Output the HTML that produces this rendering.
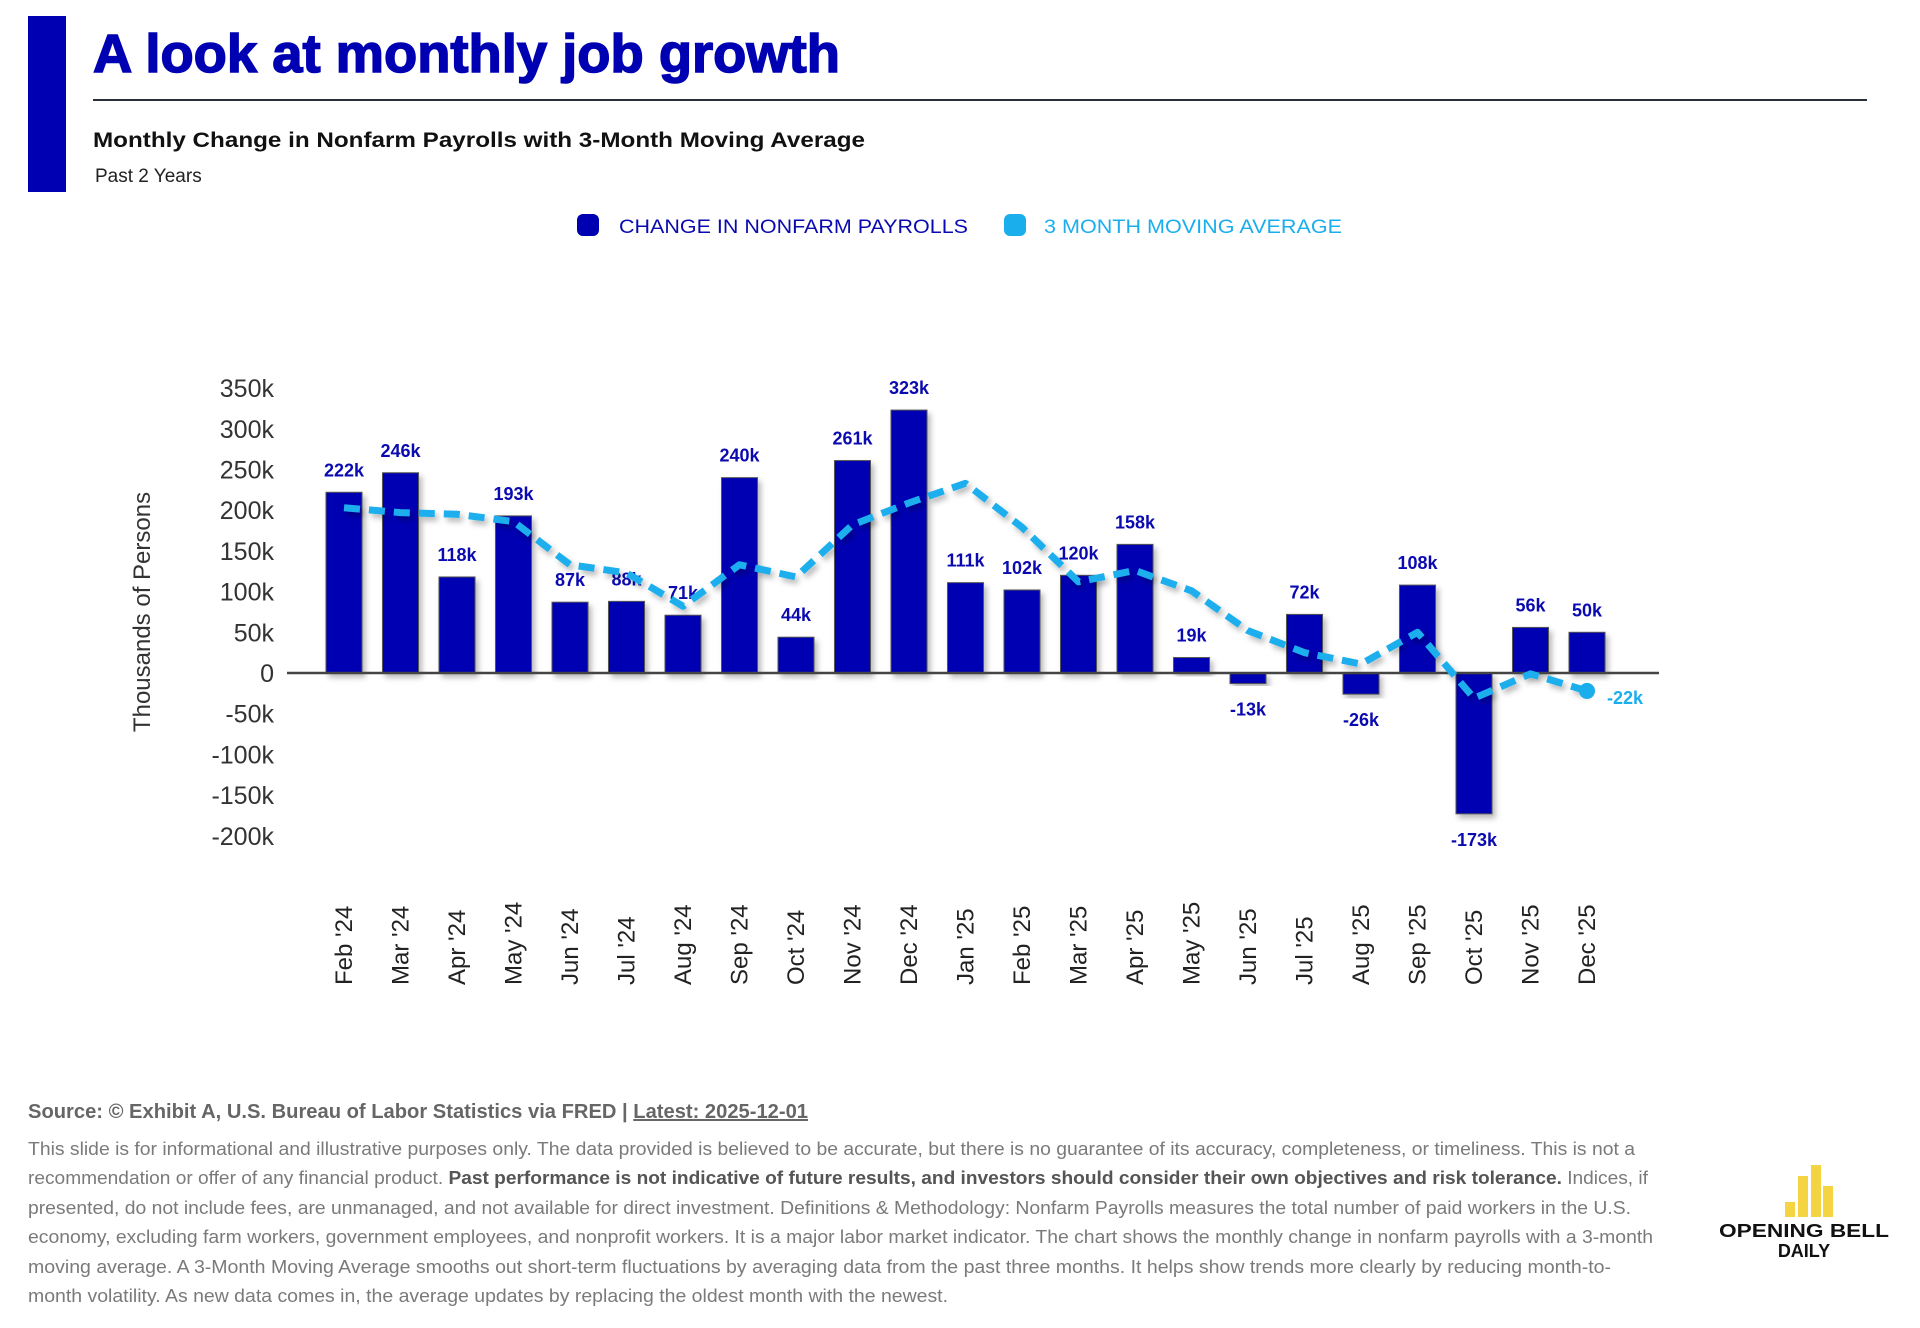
<!DOCTYPE html>
<html><head><meta charset="utf-8"><style>
html,body{margin:0;padding:0;background:#fff;}
svg{display:block;font-family:"Liberation Sans",sans-serif;}
</style></head><body>
<svg id="page" width="1920" height="1328" viewBox="0 0 1920 1328" xmlns="http://www.w3.org/2000/svg">
<defs>
<filter id="sh" x="-30%" y="-10%" width="160%" height="130%"><feDropShadow dx="3" dy="4" stdDeviation="3" flood-color="#000" flood-opacity="0.28"/></filter>
</defs>
<rect x="28" y="16" width="38" height="176" fill="#0000b3"/>
<text x="93" y="72" font-size="54" font-weight="bold" fill="#0000b3" stroke="#0000b3" stroke-width="1.5" textLength="747" lengthAdjust="spacingAndGlyphs">A look at monthly job growth</text>
<rect x="93" y="99" width="1774" height="2" fill="#2b2f3a"/>
<text x="93" y="147" font-size="21" font-weight="bold" fill="#111" textLength="772" lengthAdjust="spacingAndGlyphs">Monthly Change in Nonfarm Payrolls with 3-Month Moving Average</text>
<text x="95" y="182" font-size="19" fill="#222">Past 2 Years</text>

<g>
<g>
<rect x="577" y="214" width="22" height="22" rx="6" fill="#0000b3"/>
<text x="619" y="233" font-size="19" fill="#0a0ab0" textLength="349" lengthAdjust="spacingAndGlyphs">CHANGE IN NONFARM PAYROLLS</text>
</g>
<g>
<rect x="1004" y="214" width="22" height="22" rx="6" fill="#1aaeed"/>
<text x="1044" y="233" font-size="19" fill="#1aaeed" textLength="298" lengthAdjust="spacingAndGlyphs">3 MONTH MOVING AVERAGE</text>
</g>
</g>

<text transform="translate(150,612) rotate(-90)" text-anchor="middle" font-size="24" fill="#333">Thousands of Persons</text>
<g id="yticks"></g>
<g id="bars"></g>
<line x1="287" y1="673" x2="1659" y2="673" stroke="#444" stroke-width="2.5"/>
<g id="ma"></g>
<g id="xlabels"></g>

<text x="28" y="1118" font-size="20" font-weight="bold" fill="#666" textLength="780" lengthAdjust="spacingAndGlyphs">Source: © Exhibit A, U.S. Bureau of Labor Statistics via FRED | <tspan text-decoration="underline">Latest: 2025-12-01</tspan></text>
<g font-size="18.6" fill="#7a7a7a">
<text x="28" y="1155" textLength="1607" lengthAdjust="spacingAndGlyphs">This slide is for informational and illustrative purposes only. The data provided is believed to be accurate, but there is no guarantee of its accuracy, completeness, or timeliness. This is not a</text>
<text x="28" y="1184" textLength="1620" lengthAdjust="spacingAndGlyphs">recommendation or offer of any financial product. <tspan font-weight="bold" fill="#555">Past performance is not indicative of future results, and investors should consider their own objectives and risk tolerance.</tspan> Indices, if</text>
<text x="28" y="1214" textLength="1603" lengthAdjust="spacingAndGlyphs">presented, do not include fees, are unmanaged, and not available for direct investment. Definitions &amp; Methodology: Nonfarm Payrolls measures the total number of paid workers in the U.S.</text>
<text x="28" y="1243" textLength="1625" lengthAdjust="spacingAndGlyphs">economy, excluding farm workers, government employees, and nonprofit workers. It is a major labor market indicator. The chart shows the monthly change in nonfarm payrolls with a 3-month</text>
<text x="28" y="1273" textLength="1583" lengthAdjust="spacingAndGlyphs">moving average. A 3-Month Moving Average smooths out short-term fluctuations by averaging data from the past three months. It helps show trends more clearly by reducing month-to-</text>
<text x="28" y="1302" textLength="920" lengthAdjust="spacingAndGlyphs">month volatility. As new data comes in, the average updates by replacing the oldest month with the newest.</text>
</g>
<g>
<rect x="1785" y="1202" width="10" height="15" fill="#f5d442"/>
<rect x="1798" y="1176" width="10" height="41" fill="#f5d442"/>
<rect x="1811" y="1165" width="10" height="52" fill="#f5d442"/>
<rect x="1823" y="1186" width="10" height="31" fill="#f5d442"/>
<text x="1804" y="1237" text-anchor="middle" font-size="18" font-weight="bold" fill="#111" textLength="170" lengthAdjust="spacingAndGlyphs">OPENING BELL</text>
<text x="1804" y="1257" text-anchor="middle" font-size="18" font-weight="bold" fill="#111">DAILY</text>
</g>
</svg>
<script>
const months = ["Feb '24","Mar '24","Apr '24","May '24","Jun '24","Jul '24","Aug '24","Sep '24","Oct '24","Nov '24","Dec '24","Jan '25","Feb '25","Mar '25","Apr '25","May '25","Jun '25","Jul '25","Aug '25","Sep '25","Oct '25","Nov '25","Dec '25"];
const payrolls = [222,246,118,193,87,88,71,240,44,261,323,111,102,120,158,19,-13,72,-26,108,-173,56,50];
const movingAvg = [203,197,195,186,133,123,82,133,118,182,209,233,179,112,126,101,52,25,11,50,-31,-1,-22];
const yTicks = [350,300,250,200,150,100,50,0,-50,-100,-150,-200];

const NS = "http://www.w3.org/2000/svg";
function xPos(i){ return 344 + i * (1587 - 344) / (months.length - 1); }
function yPos(v){ return 673 - v * 40.7 / 50; }
function mk(tag, attrs, parent){ const e = document.createElementNS(NS, tag); for (const k in attrs) e.setAttribute(k, attrs[k]); parent.appendChild(e); return e; }
function fmt(v){ return v === 0 ? "0" : v + "k"; }

const yg = document.getElementById("yticks");
yTicks.forEach(v => {
  const t = mk("text", {x: 274, y: yPos(v) + 9, "text-anchor": "end", "font-size": 25, fill: "#333"}, yg);
  t.textContent = fmt(v);
  
  
});

const bg = document.getElementById("bars");
const bw = 36;
payrolls.forEach((v, i) => {
  const x = xPos(i);
  const top = Math.min(yPos(v), yPos(0)), h = Math.abs(yPos(v) - yPos(0));
  const r = mk("rect", {x: x - bw/2, y: top, width: bw, height: h, fill: "#0000b3", stroke: "#555", "stroke-width": 1, filter: "url(#sh)"}, bg);
  
  
  const ly = v >= 0 ? yPos(v) - 16 : yPos(v) + 32;
  const t = mk("text", {x: x, y: ly, "text-anchor": "middle", "font-size": 18, "font-weight": "bold", fill: "#0a0ab0"}, bg);
  t.textContent = fmt(v);
  
  
});

const mg = document.getElementById("ma");
const pts = movingAvg.map((v, i) => xPos(i) + "," + yPos(v)).join(" ");
const pl = mk("polyline", {points: pts, fill: "none", stroke: "#1aaeed", "stroke-width": 7, "stroke-dasharray": "16 9", "stroke-linejoin": "round", filter: "url(#sh)"}, mg);


const last = movingAvg.length - 1;
const c = mk("circle", {cx: xPos(last), cy: yPos(movingAvg[last]), r: 8, fill: "#1aaeed"}, mg);


const ml = mk("text", {x: xPos(last) + 20, y: yPos(movingAvg[last]) + 13, "font-size": 18, "font-weight": "bold", fill: "#1aaeed"}, mg);
ml.textContent = fmt(movingAvg[last]);



const xg = document.getElementById("xlabels");
months.forEach((m, i) => {
  const t = mk("text", {transform: "translate(" + (xPos(i) + 8) + ",985) rotate(-90)", "font-size": 24, fill: "#222"}, xg);
  t.textContent = m;
  
  
});
</script>
</body></html>
